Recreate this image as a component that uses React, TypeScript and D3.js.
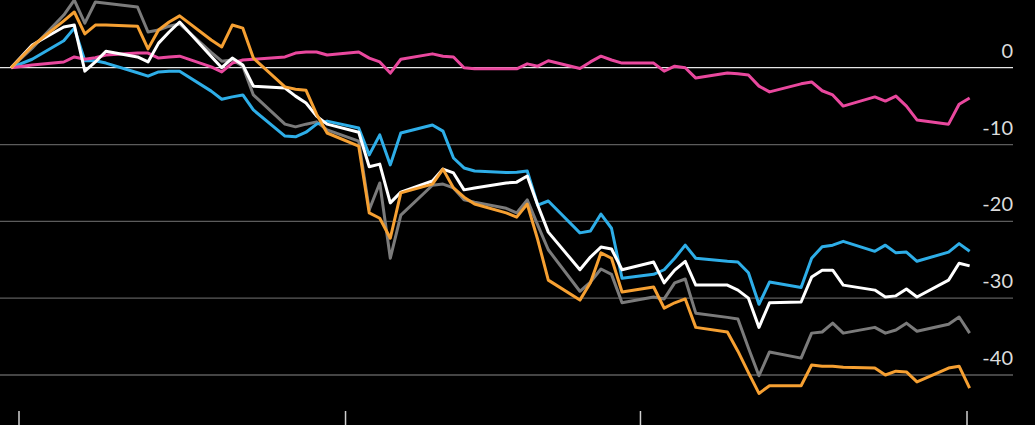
import React from "react";
import * as d3 from "d3";

// Trading days shown on the chart
const dateStrs = [
  "2008-12-31", "2009-01-02",
  "2009-01-05", "2009-01-06", "2009-01-07", "2009-01-08", "2009-01-09",
  "2009-01-12", "2009-01-13", "2009-01-14", "2009-01-15", "2009-01-16",
  "2009-01-19", "2009-01-20", "2009-01-21", "2009-01-22", "2009-01-23",
  "2009-01-26", "2009-01-27", "2009-01-28", "2009-01-29", "2009-01-30",
  "2009-02-02", "2009-02-03", "2009-02-04", "2009-02-05", "2009-02-06",
  "2009-02-09", "2009-02-10", "2009-02-11", "2009-02-12", "2009-02-13",
  "2009-02-16", "2009-02-17", "2009-02-18", "2009-02-19", "2009-02-20",
  "2009-02-23", "2009-02-24", "2009-02-25", "2009-02-26", "2009-02-27",
  "2009-03-02", "2009-03-03", "2009-03-04", "2009-03-05", "2009-03-06",
  "2009-03-09", "2009-03-10", "2009-03-11", "2009-03-12", "2009-03-13",
  "2009-03-16", "2009-03-17", "2009-03-18", "2009-03-19", "2009-03-20",
  "2009-03-23", "2009-03-24", "2009-03-25", "2009-03-26", "2009-03-27",
  "2009-03-30", "2009-03-31", "2009-04-01",
];

const pinkValues = [
  0, 0.35, 0.74, 1.4, 1.1, 1.3, 1.65, 1.9, 1.9, 1.25, 1.4, 1.5,
  0.1, -0.55, 0.6, 1.0, 1.1,
  1.4, 1.9, 2.05, 2.05, 1.65,
  2.05, 1.25, 0.75, -0.7, 1.1,
  1.8, 1.5, 1.4, 0, -0.15,
  -0.15, -0.15, 0.5, 0.2, 0.9,
  -0.1, 0.75, 1.5, 1.0, 0.6,
  0.6, -0.45, 0.2, 0, -1.35,
  -0.7, -0.8, -0.95, -2.4, -3.15,
  -2.1, -1.85, -3.0, -3.55, -5.0,
  -3.8, -4.35, -3.7, -5.0, -6.8,
  -7.35, -4.75, -3.95,
];

const blueValues = [
  0, 1.1, 3.5, 5.15, 0.9, 0.9, 0.6, -0.65, -1.1, -0.55, -0.45, -0.45,
  -3.05, -4.1, -3.8, -3.55, -5.5,
  -8.9, -9.0, -8.4, -7.35, -6.95,
  -7.85, -11.35, -8.75, -12.65, -8.5,
  -7.45, -8.25, -11.75, -13.05, -13.45,
  -13.65, -13.6, -13.45, -17.9, -17.35,
  -21.5, -21.25, -19.05, -20.9, -27.4,
  -26.9, -26.3, -24.8, -23.1, -24.8,
  -25.2, -25.3, -26.7, -30.8, -27.9,
  -28.6, -24.8, -23.3, -23.1, -22.6,
  -23.9, -23.1, -24.1, -24.0, -25.2,
  -24.0, -22.9, -23.9,
];

const whiteValues = [
  0, 2.95, 5.3, 5.55, -0.45, 0.75, 2.15, 1.4, 0.75, 3.2, 4.65, 5.95,
  1.45, 0, 1.25, 0.35, -2.4,
  -2.65, -3.7, -4.6, -6.3, -7.35,
  -8.4, -12.9, -12.55, -17.6, -16.2,
  -14.75, -13.2, -13.7, -15.9, -15.65,
  -15.0, -14.9, -14.1, -17.9, -21.4,
  -26.3, -24.65, -23.35, -23.6, -26.3,
  -25.3, -28.0, -26.35, -25.2, -28.3,
  -28.3, -28.95, -30.0, -33.8, -30.6,
  -30.5, -27.25, -26.35, -26.35, -28.3,
  -28.95, -29.85, -29.7, -28.8, -29.85,
  -27.65, -25.45, -25.8,
];

const grayValues = [
  0, 2.55, 6.85, 8.8, 5.8, 8.55, 8.4, 7.9, 4.65, 4.9, 5.4, 5.7,
  2.0, 0.85, 1.0, 0.2, -3.55,
  -7.35, -7.7, -7.35, -7.05, -8.1,
  -9.55, -18.5, -15.0, -24.8, -19.2,
  -15.3, -15.15, -15.65, -17.2, -17.5,
  -18.3, -18.9, -17.2, -20.5, -23.7,
  -29.1, -27.9, -26.2, -26.9, -30.6,
  -29.85, -30.1, -28.0, -27.5, -31.95,
  -32.5, -32.7, -36.5, -40.1, -37.0,
  -37.8, -34.55, -34.4, -33.25, -34.55,
  -33.8, -34.55, -34.15, -33.25, -34.3,
  -33.4, -32.45, -34.55,
];

const orangeValues = [
  0, 2.8, 6.1, 7.25, 4.4, 5.55, 5.55, 5.4, 2.45, 4.9, 5.95, 6.75,
  3.6, 2.7, 5.55, 5.15, 1.25,
  -2.5, -2.8, -2.95, -6.05, -8.5,
  -10.2, -18.9, -19.6, -22.2, -16.3,
  -15.15, -13.2, -15.65, -16.85, -17.75,
  -18.9, -19.45, -17.75, -22.4, -27.65,
  -30.25, -28.0, -24.1, -24.8, -29.2,
  -28.55, -31.3, -30.6, -30.1, -33.8,
  -34.4, -36.9, -39.7, -42.4, -41.4,
  -41.4, -38.7, -38.85, -38.85, -39.0,
  -39.1, -40.0, -39.5, -39.6, -40.9,
  -39.1, -38.85, -41.7,
];

const yTickValues = [0, -10, -20, -30, -40];
const xTickDates = ["2009-01-01", "2009-02-01", "2009-03-01", "2009-04-01"];

const seriesList = [
  { name: "gray", color: "#7b7b7b", values: grayValues },
  { name: "blue", color: "#2eaee8", values: blueValues },
  { name: "pink", color: "#e9489e", values: pinkValues },
  { name: "white", color: "#ffffff", values: whiteValues },
  { name: "orange", color: "#f6a032", values: orangeValues },
];

export default function App() {
  const W = 1035;
  const H = 425;
  const parse = d3.timeParse("%Y-%m-%d");
  const dates = dateStrs.map((s) => d3.timeHour.offset(parse(s) as Date, 6));

  const x = d3
    .scaleTime()
    .domain([parse("2009-01-01") as Date, parse("2009-04-01") as Date])
    .range([19, 967]);
  const y = d3.scaleLinear().domain([0, -40]).range([67.7, 375]);

  const line = d3
    .line<number>()
    .x((_, i) => x(dates[i]))
    .y((v) => y(v));

  const gridRight = 1013;

  return (
    <svg
      width={W}
      height={H}
      style={{ position: "absolute", left: 0, top: 0, display: "block" }}
    >
      <rect x={0} y={0} width={W} height={H} fill="#000" />
      {yTickValues.map((v) => (
        <g key={v}>
          <line
            x1={0}
            x2={gridRight}
            y1={y(v)}
            y2={y(v)}
            stroke={v === 0 ? "#e6e6e6" : "#5c5c5c"}
            strokeWidth={1.3}
          />
          <text
            x={gridRight}
            y={y(v) - 10}
            textAnchor="end"
            fill="#dcdcdc"
            fontFamily="Lato, 'Open Sans', sans-serif"
            fontSize={20}
          >
            {v === 0 ? "0" : String(v)}
          </text>
        </g>
      ))}
      {xTickDates.map((s) => {
        const xx = x(parse(s) as Date);
        return (
          <line
            key={s}
            x1={xx}
            x2={xx}
            y1={411}
            y2={H}
            stroke="#d0d0d0"
            strokeWidth={1.5}
          />
        );
      })}
      {seriesList.map((s) => (
        <path
          key={s.name}
          d={line(s.values) || ""}
          fill="none"
          stroke={s.color}
          strokeWidth={3}
          strokeLinejoin="round"
        />
      ))}
    </svg>
  );
}
